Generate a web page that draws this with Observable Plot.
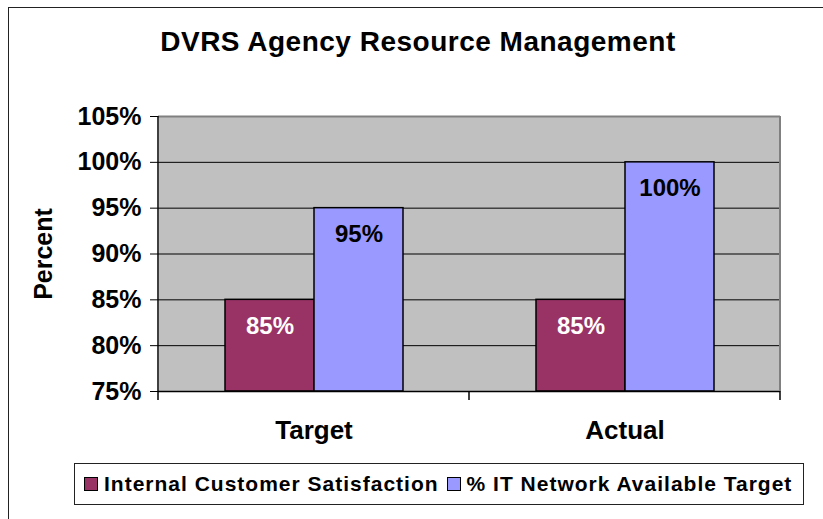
<!DOCTYPE html>
<html>
<head>
<meta charset="utf-8">
<script src="https://cdn.jsdelivr.net/npm/d3@7"></script>
<script src="https://cdn.jsdelivr.net/npm/@observablehq/plot@0.6"></script>
<style>
  html, body { margin: 0; padding: 0; background: #fff; }
  #wrap { position: relative; width: 823px; height: 519px; overflow: hidden; font-family: "Liberation Sans", Arial, sans-serif; color: #000; }
  #border { position: absolute; left: 8px; top: 7px; width: 900px; height: 600px; border: 1px solid #222; box-sizing: border-box; }
  #title { position: absolute; left: 0; width: 836px; top: 26px; text-align: center; font-size: 28px; font-weight: bold; letter-spacing: 0.5px; white-space: nowrap; }
  #ylabel { position: absolute; left: 43px; top: 254px; transform: translate(-50%, -50%) rotate(-90deg); font-size: 25px; font-weight: bold; white-space: nowrap; }
  #chart { position: absolute; left: 0; top: 0; }
  #legend { position: absolute; left: 74px; top: 463px; width: 730px; height: 42px; box-sizing: border-box; border: 1px solid #222; display: flex; align-items: center; padding-left: 9px; gap: 8px; font-size: 21px; font-weight: bold; letter-spacing: 1px; white-space: nowrap; }
  .item { display: flex; align-items: center; gap: 6px; }
  .sw { width: 14px; height: 14px; box-sizing: border-box; border: 1.5px solid #000; }
</style>
</head>
<body>
<div id="wrap">
  <div id="border"></div>
  <div id="chart"></div>
  <div id="title"></div>
  <div id="ylabel"></div>
  <div id="legend"></div>
</div>
<script>
const titleText = "DVRS Agency Resource Management";
const yLabelText = "Percent";
const categories = ["Target", "Actual"];
const seriesNames = ["Internal Customer Satisfaction", "% IT Network Available Target"];
const satisfaction = [85, 85];
const network = [95, 100];
const yTicks = [75, 80, 85, 90, 95, 100, 105];
const seriesColors = ["#993366", "#9999FF"];

const data = categories.flatMap((c, i) => [
  {cat: c, series: seriesNames[0], value: satisfaction[i]},
  {cat: c, series: seriesNames[1], value: network[i]}
]);

const chart = Plot.plot({
  width: 823,
  height: 519,
  marginLeft: 158,
  marginRight: 43,
  marginTop: 116,
  marginBottom: 128,
  style: {fontFamily: "'Liberation Sans', Arial, sans-serif", background: "transparent", color: "#000"},
  fx: {domain: categories, padding: 0},
  x: {domain: seriesNames, paddingInner: 0, paddingOuter: 0.728, axis: null},
  y: {domain: [75, 105]},
  color: {domain: seriesNames, range: seriesColors},
  marks: [
    Plot.frame({fill: "#C0C0C0", stroke: "none", shapeRendering: "crispEdges"}),
    Plot.gridY(yTicks.filter(d => d > 75 && d < 105), {stroke: "#000", strokeOpacity: 1, strokeWidth: 1}),
    Plot.ruleY([105], {stroke: "#808080", strokeWidth: 2}),
    Plot.barY(data, {fx: "cat", x: "series", y1: 75, y2: "value", fill: "series", stroke: "#000", strokeWidth: 1.5}),
    Plot.text(data, {filter: d => d.series === seriesNames[0], fx: "cat", x: "series", y: "value", text: d => d.value + "%", dy: 26, fill: "#fff", fontSize: 24, fontWeight: "bold"}),
    Plot.text(data, {filter: d => d.series === seriesNames[1], fx: "cat", x: "series", y: "value", text: d => d.value + "%", dy: 26, fill: "#000", fontSize: 24, fontWeight: "bold"}),
    Plot.ruleY([75], {stroke: "#000", strokeWidth: 1.5}),
    Plot.axisY(yTicks, {anchor: "left", tickSize: 8, tickPadding: 9, tickFormat: d => d + "%", fontSize: 25, fontWeight: "bold", label: null, stroke: "#000"}),
    Plot.axisFx({anchor: "bottom", tickSize: 0, tickPadding: 29, fontSize: 26, fontWeight: "bold", label: null})
  ]
});

document.getElementById("chart").appendChild(chart);

// Excel-style edge lines and category separator ticks, derived from the plot's scales
const fxS = chart.scale("fx");
const yS = chart.scale("y");
const fx = d3.scaleBand().domain(fxS.domain).range(fxS.range).padding(0);
const y = d3.scaleLinear().domain(yS.domain).range(yS.range);
const svg = d3.select(chart);
const g = svg.append("g");
const x0 = fx(categories[0]);
const x1 = fx(categories[categories.length - 1]) + fx.bandwidth();
// right border
g.append("line").attr("x1", x1).attr("x2", x1).attr("y1", y(105)).attr("y2", y(75)).attr("stroke", "#808080").attr("stroke-width", 2);
// left axis line
g.append("line").attr("x1", x0).attr("x2", x0).attr("y1", y(105)).attr("y2", y(75)).attr("stroke", "#000").attr("stroke-width", 1.5);
// category separator ticks
const edges = categories.map(c => fx(c)).concat([x1]);
g.selectAll("line.sep").data(edges).join("line")
  .attr("class", "sep")
  .attr("x1", d => d).attr("x2", d => d)
  .attr("y1", y(75)).attr("y2", y(75) + 9)
  .attr("stroke", "#000").attr("stroke-width", 1.5);

document.getElementById("title").textContent = titleText;
document.getElementById("ylabel").textContent = yLabelText;
const legend = document.getElementById("legend");
seriesNames.forEach((name, i) => {
  const item = document.createElement("div");
  item.className = "item";
  const sw = document.createElement("div");
  sw.className = "sw";
  sw.style.background = seriesColors[i];
  const t = document.createElement("span");
  t.textContent = name;
  item.appendChild(sw);
  item.appendChild(t);
  legend.appendChild(item);
});
</script>
</body>
</html>
